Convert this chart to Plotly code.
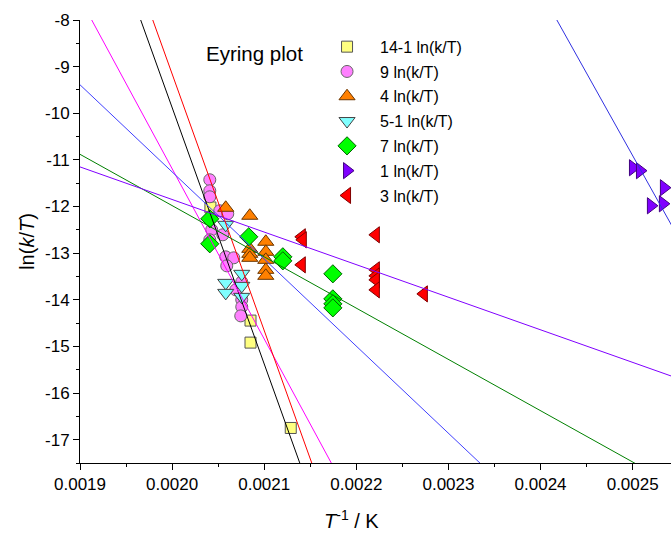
import numpy as np
import plotly.graph_objects as go

# ---------------- data ----------------
names = ["14-1 ln(k/T)", "9 ln(k/T)", "4 ln(k/T)", "5-1 ln(k/T)",
         "7 ln(k/T)", "1 ln(k/T)", "3 ln(k/T)"]

x_14_1 = [0.0020416, 0.0020851, 0.0020851, 0.0021288]
y_14_1 = [-12.020, -14.446, -14.918, -16.749]

x_9 = [0.0020409, 0.0020409, 0.0020409, 0.0020517, 0.0020604, 0.0020430, 0.0020409,
       0.0020550, 0.0020582, 0.0020669, 0.0020593, 0.0020756, 0.0020691, 0.0020756,
       0.0020756, 0.0020745]
y_9 = [-11.426, -11.662, -11.791, -12.091, -12.155, -12.499, -12.713,
       -12.606, -13.078, -13.100, -13.272, -13.615, -13.787, -14.001,
       -14.151, -14.345]

x_4 = [0.0020582, 0.0020843, 0.0020843, 0.0020843, 0.0020843, 0.0021017, 0.0021017,
       0.0021017, 0.0021017, 0.0021017]
y_4 = [-12.027, -12.198, -12.907, -13.014, -13.100, -12.756, -12.971,
       -13.143, -13.358, -13.486]

x_5_1 = [0.0020582, 0.0020582, 0.0020582, 0.0020756, 0.0020756, 0.0020756]
y_5_1 = [-12.392, -13.637, -13.852, -13.443, -13.701, -13.937]

x_7 = [0.0020409, 0.0020409, 0.0020832, 0.0021202, 0.0021202, 0.0021745,
       0.0021745, 0.0021745, 0.0021745]
y_7 = [-12.263, -12.799, -12.649, -13.078, -13.164, -13.443,
       -13.980, -14.087, -14.173]

x_1 = [0.0025003, 0.0025079, 0.0025339, 0.0025198, 0.0025328]
y_1 = [-11.168, -11.232, -11.597, -11.984, -11.941]

x_3 = [0.0021408, 0.0021419, 0.0021408, 0.0022212, 0.0022212, 0.0022212,
       0.0022212, 0.0022212, 0.0022733]
y_3 = [-12.649, -12.713, -13.250, -12.606, -13.357, -13.486,
       -13.572, -13.787, -13.873]

# linear fits ln(k/T) = intercept + slope * (1/T)
fit_slope = [-55009, -36524, -18682, -55041, -10997, -35351, -6987]
fit_intercept = [100.142, 61.860, 26.106, 100.926, 10.014, 77.468, 2.125]
fit_color = ["#000000", "#FF00FF", "#4040FF", "#FF0000", "#008000", "#3030E0", "#8000FF"]

x_range = [0.0019, 0.0025416]
y_range = [-17.5, -8]
y_ticks = [-8, -9, -10, -11, -12, -13, -14, -15, -16, -17]
y_ticktext = ["-8", "-9", "-10", "-11", "-12", "-13", "-14", "-15", "-16", "-17"]

# ---------------- styling ----------------
series = [
    (x_14_1, y_14_1, "square", "#FFFF80", "#555555", 11),
    (x_9, y_9, "circle", "#FF80FF", "#666666", 12),
    (x_4, y_4, "triangle-up", "#FF8000", "#6a3500", 14),
    (x_5_1, y_5_1, "triangle-down", "#80FFFF", "#444444", 14),
    (x_7, y_7, "diamond", "#00FF00", "#006000", 14),
    (x_1, y_1, "triangle-right", "#8000FF", "#400080", 14),
    (x_3, y_3, "triangle-left", "#FF0000", "#800000", 14),
]

FONT = "Arial, Liberation Sans, sans-serif"
fig = go.Figure()

for i, (xs, ys, sym, fill, edge, sz) in enumerate(series):
    fig.add_trace(go.Scatter(
        x=xs, y=ys, mode="markers", name=names[i], legendgroup=str(i),
        marker=dict(symbol=sym, size=sz, color=fill, line=dict(color=edge, width=1)),
    ))

xl = np.array([x_range[0] - 0.0001, x_range[1] + 0.0001])
for s, b, c in zip(fit_slope, fit_intercept, fit_color):
    fig.add_trace(go.Scatter(
        x=xl, y=b + s * xl, mode="lines", showlegend=False, hoverinfo="skip",
        line=dict(color=c, width=1),
    ))

fig.add_annotation(text="Eyring plot", x=0.21, y=0.925, xref="paper", yref="paper",
                   xanchor="left", yanchor="middle", showarrow=False,
                   font=dict(family=FONT, size=20.5, color="#000000"))
fig.add_annotation(text="<i>T</i><sup>-1</sup> / K", x=0.46, y=-0.127,
                   xref="paper", yref="paper", xanchor="center", yanchor="middle",
                   showarrow=False, font=dict(family=FONT, size=20, color="#000000"))

fig.update_layout(
    width=671, height=533,
    margin=dict(l=80, r=0, t=20, b=70),
    paper_bgcolor="white", plot_bgcolor="white",
    font=dict(family=FONT, size=16, color="#000000"),
    showlegend=True,
    legend=dict(x=0.396, y=0.978, xanchor="left", yanchor="top",
                bgcolor="rgba(0,0,0,0)", font=dict(family=FONT, size=16),
                itemwidth=56, traceorder="grouped", tracegroupgap=1),
    xaxis=dict(range=x_range, showgrid=False, zeroline=False,
               showline=True, linecolor="black", linewidth=1,
               ticks="outside", ticklen=6, tickcolor="black",
               dtick=0.0001, tick0=0.0019, tickformat=".4f",
               minor=dict(ticks="outside", ticklen=3, dtick=0.00005, tickcolor="black"),
               tickfont=dict(family=FONT, size=17)),
    yaxis=dict(range=y_range, showgrid=False, zeroline=False,
               showline=True, linecolor="black", linewidth=1,
               ticks="outside", ticklen=6, tickcolor="black",
               tickvals=y_ticks, ticktext=y_ticktext,
               minor=dict(ticks="outside", ticklen=3, dtick=0.5, tickcolor="black"),
               tickfont=dict(family=FONT, size=17),
               title=dict(text="ln(<i>k</i>/<i>T</i>)", standoff=5,
                          font=dict(family=FONT, size=20))),
)

fig.write_html("out.html")
